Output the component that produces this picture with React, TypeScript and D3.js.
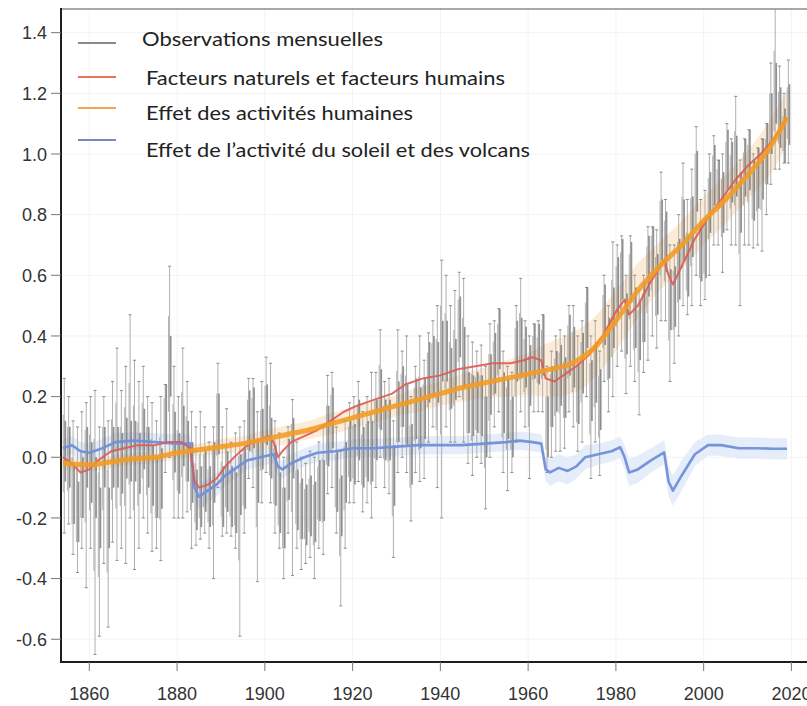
import React from 'react';
import * as d3 from 'd3';

const W = 807;
const H = 706;

// ---- Observations (one stick per year: low..high, with the annual centre) ----
const obsStartYear = 1854;
const obsMid = [
  0.02, 0.0, -0.12, -0.18, -0.1, 0.0,
  -0.05, -0.1, -0.2, 0.0, -0.2, 0.0, 0.0, -0.02, 0.03, 0.02,
  0.02, -0.02, 0.06, 0.0, -0.06, -0.1, -0.07, 0.15, 0.3, 0.05,
  -0.02, 0.07, 0.02, -0.05, -0.14, -0.13, -0.08, -0.13, -0.05, 0.11,
  -0.13, -0.08, -0.13, -0.15, -0.09, -0.07, 0.12, 0.13, -0.05, 0.06,
  0.14, 0.03, -0.06, -0.15, -0.2, -0.04, 0.03, -0.14, -0.17, -0.19,
  -0.16, -0.18, -0.11, -0.11, 0.07, 0.13, -0.08, -0.16, -0.05, 0.02,
  0.01, 0.09, 0.0, 0.02, 0.02, 0.09, 0.19, 0.09, 0.09, -0.06,
  0.15, 0.2, 0.14, 0.01, 0.16, 0.13, 0.16, 0.28, 0.3, 0.28,
  0.35, 0.35, 0.26, 0.29, 0.43, 0.33, 0.18, 0.17, 0.18, 0.17,
  0.1, 0.24, 0.31, 0.39, 0.18, 0.16, 0.1, 0.35, 0.36, 0.33,
  0.27, 0.36, 0.34, 0.37, 0.1, 0.2, 0.25, 0.27, 0.23, 0.37,
  0.33, 0.21, 0.31, 0.46, 0.22, 0.28, 0.19, 0.47, 0.36, 0.46,
  0.56, 0.62, 0.44, 0.61, 0.46, 0.42, 0.48, 0.63, 0.7, 0.57,
  0.75, 0.71, 0.52, 0.53, 0.62, 0.75, 0.63, 0.76, 0.91, 0.68,
  0.69, 0.84, 0.93, 0.92, 0.84, 0.98, 0.94, 0.96, 0.84, 0.96,
  0.98, 0.88, 0.92, 0.95, 1.0, 1.1, 1.2, 1.12, 1.05, 1.13,
];
const obsLow = [
  -0.25, -0.22, -0.32, -0.38, -0.3, -0.43,
  -0.3, -0.65, -0.59, -0.35, -0.56, -0.28, -0.34, -0.3, -0.35, -0.2,
  -0.37, -0.3, -0.2, -0.25, -0.31, -0.3, -0.34, -0.05, 0.0, -0.2,
  -0.2, -0.2, -0.18, -0.3, -0.29, -0.27, -0.25, -0.3, -0.4, -0.1,
  -0.26, -0.25, -0.26, -0.3, -0.59, -0.25, -0.07, -0.1, -0.41, -0.15,
  -0.05, -0.15, -0.25, -0.3, -0.4, -0.25, -0.39, -0.3, -0.37, -0.35,
  -0.33, -0.4, -0.3, -0.32, -0.12, -0.1, -0.25, -0.49, -0.3, -0.15,
  -0.15, -0.08, -0.18, -0.15, -0.2, -0.1, 0.0, -0.1, -0.12, -0.33,
  -0.05, 0.0, -0.05, -0.21, -0.05, -0.08, -0.07, 0.05, 0.1, -0.1,
  -0.2, 0.1, 0.05, 0.05, 0.2, 0.05, -0.02, -0.06, 0.0, -0.02,
  -0.17, 0.0, 0.1, 0.15, -0.05, -0.11, -0.05, 0.05, 0.15, 0.1,
  -0.07, 0.15, 0.15, 0.15, -0.05, 0.0, 0.02, 0.02, 0.03, 0.15,
  0.1, 0.02, 0.05, 0.2, -0.07, 0.05, -0.06, 0.25, 0.15, 0.2,
  0.3, 0.35, 0.21, 0.3, 0.25, 0.14, 0.28, 0.32, 0.4, 0.36,
  0.45, 0.45, 0.25, 0.31, 0.4, 0.5, 0.47, 0.5, 0.6, 0.5,
  0.52, 0.6, 0.7, 0.7, 0.61, 0.75, 0.7, 0.7, 0.5, 0.7,
  0.7, 0.69, 0.7, 0.68, 0.8, 0.9, 0.95, 0.95, 0.97, 0.97,
];
const obsHigh = [
  0.26, 0.2, 0.12, 0.1, 0.15, 0.18,
  0.2, 0.22, 0.1, 0.2, 0.12, 0.25, 0.36, 0.22, 0.3, 0.47,
  0.32, 0.25, 0.3, 0.2, 0.18, 0.12, 0.2, 0.24, 0.63, 0.3,
  0.2, 0.36, 0.25, 0.15, 0.1, 0.15, 0.1, 0.05, 0.1, 0.31,
  0.1, 0.16, 0.05, 0.08, 0.1, 0.12, 0.26, 0.26, 0.15, 0.25,
  0.33, 0.31, 0.12, 0.08, 0.0, 0.1, 0.19, 0.05, 0.0, -0.02,
  0.02, 0.0, 0.05, 0.1, 0.27, 0.28, 0.1, 0.02, 0.12, 0.18,
  0.2, 0.25, 0.15, 0.2, 0.28, 0.28, 0.42, 0.25, 0.26, 0.12,
  0.42, 0.35, 0.4, 0.2, 0.3, 0.4, 0.32, 0.41, 0.45, 0.5,
  0.65, 0.6, 0.5, 0.55, 0.61, 0.59, 0.4, 0.38, 0.35, 0.37,
  0.3, 0.44, 0.45, 0.49, 0.35, 0.3, 0.28, 0.5, 0.59, 0.45,
  0.4, 0.44, 0.45, 0.47, 0.3, 0.35, 0.4, 0.42, 0.4, 0.5,
  0.5, 0.4, 0.45, 0.56, 0.4, 0.45, 0.35, 0.6, 0.5, 0.71,
  0.7, 0.73, 0.6, 0.73, 0.6, 0.55, 0.6, 0.76, 0.76, 0.75,
  0.94, 0.85, 0.7, 0.7, 0.8, 0.97, 0.85, 0.95, 1.09, 0.85,
  0.88, 1.0, 1.06, 0.98, 1.0, 1.1, 1.05, 1.19, 0.98, 1.05,
  1.08, 1.0, 1.02, 1.05, 1.1, 1.3, 1.48, 1.29, 1.2, 1.31,
];

// ---- Effet des activités humaines (orange) ----
const humanYears = [1854, 1860, 1865, 1870, 1875, 1880, 1885, 1890, 1895, 1900, 1905, 1910, 1915, 1920, 1925, 1930, 1935, 1940, 1945, 1950, 1955, 1960, 1965, 1970, 1975, 1980, 1985, 1990, 1995, 2000, 2005, 2010, 2015, 2019];
const humanValues = [-0.02, -0.025, -0.015, -0.005, 0.0, 0.015, 0.025, 0.035, 0.045, 0.06, 0.075, 0.09, 0.11, 0.13, 0.15, 0.17, 0.19, 0.21, 0.23, 0.245, 0.26, 0.275, 0.29, 0.31, 0.36, 0.45, 0.55, 0.63, 0.7, 0.78, 0.85, 0.93, 1.02, 1.12];
const humanBand = [0.02, 0.02, 0.02, 0.02, 0.02, 0.02, 0.02, 0.025, 0.025, 0.03, 0.03, 0.03, 0.035, 0.035, 0.035, 0.035, 0.04, 0.04, 0.045, 0.05, 0.06, 0.07, 0.09, 0.1, 0.1, 0.1, 0.09, 0.08, 0.08, 0.08, 0.08, 0.08, 0.09, 0.09];

// ---- Facteurs naturels et facteurs humains (red) ----
const combinedYears = [1854, 1856, 1858, 1860, 1862, 1865, 1868, 1871, 1875, 1878, 1881, 1883, 1884, 1885, 1887, 1889, 1891, 1893, 1896, 1899, 1901, 1902, 1903, 1904, 1906, 1909, 1912, 1915, 1918, 1921, 1925, 1929, 1932, 1936, 1940, 1944, 1948, 1952, 1956, 1959, 1961, 1963, 1964, 1966, 1968, 1971, 1974, 1977, 1980, 1982, 1983, 1985, 1988, 1991, 1992, 1993, 1995, 1998, 2001, 2004, 2007, 2010, 2013, 2016, 2019];
const combinedValues = [0.0, -0.02, -0.05, -0.04, -0.01, 0.02, 0.03, 0.04, 0.04, 0.05, 0.05, 0.03, -0.08, -0.1, -0.09, -0.07, -0.03, 0.0, 0.04, 0.06, 0.07, 0.05, 0.0, 0.02, 0.05, 0.07, 0.09, 0.12, 0.15, 0.17, 0.19, 0.21, 0.24, 0.26, 0.27, 0.29, 0.3, 0.31, 0.31, 0.32, 0.33, 0.32, 0.26, 0.25, 0.27, 0.3, 0.34, 0.4, 0.48, 0.52, 0.47, 0.5, 0.58, 0.65, 0.6, 0.57, 0.63, 0.72, 0.79, 0.85, 0.91, 0.96, 1.0, 1.05, 1.12];

// ---- Effet de l'activité du soleil et des volcans (blue) ----
const naturalYears = [1854, 1856, 1858, 1860, 1863, 1866, 1870, 1875, 1880, 1883, 1884, 1885, 1887, 1889, 1891, 1893, 1896, 1899, 1902, 1903, 1904, 1906, 1909, 1912, 1916, 1920, 1925, 1930, 1935, 1940, 1945, 1950, 1955, 1958, 1961, 1963, 1964, 1965, 1967, 1969, 1971, 1973, 1976, 1979, 1981, 1982, 1983, 1985, 1988, 1991, 1992, 1993, 1995, 1998, 2001, 2004, 2008, 2012, 2016, 2019];
const naturalValues = [0.03, 0.04, 0.02, 0.015, 0.03, 0.05, 0.055, 0.05, 0.045, 0.045, -0.1, -0.13, -0.11, -0.09, -0.06, -0.04, -0.01, 0.0, 0.01, -0.03, -0.04, -0.02, 0.0, 0.015, 0.02, 0.03, 0.03, 0.035, 0.04, 0.04, 0.04, 0.045, 0.05, 0.055, 0.05, 0.045, -0.04, -0.05, -0.035, -0.045, -0.03, 0.0, 0.01, 0.02, 0.033, 0.0, -0.05, -0.04, -0.01, 0.016, -0.08, -0.11, -0.06, 0.01, 0.04, 0.04, 0.03, 0.03, 0.028, 0.028];
const naturalBand = [0.03, 0.03, 0.03, 0.03, 0.03, 0.03, 0.03, 0.03, 0.03, 0.03, 0.04, 0.04, 0.04, 0.04, 0.035, 0.035, 0.03, 0.03, 0.03, 0.03, 0.03, 0.03, 0.03, 0.03, 0.03, 0.03, 0.03, 0.03, 0.03, 0.03, 0.03, 0.03, 0.03, 0.03, 0.03, 0.03, 0.04, 0.045, 0.045, 0.045, 0.04, 0.04, 0.035, 0.035, 0.035, 0.04, 0.045, 0.045, 0.04, 0.04, 0.05, 0.05, 0.05, 0.04, 0.035, 0.035, 0.035, 0.035, 0.035, 0.035];

// ---- Axes ----
const yTicks = [1.4, 1.2, 1.0, 0.8, 0.6, 0.4, 0.2, 0.0, -0.2, -0.4, -0.6];
const yTickLabels = ['1.4', '1.2', '1.0', '0.8', '0.6', '0.4', '0.2', '0.0', '-0.2', '-0.4', '-0.6'];
const xTicks = [1860, 1880, 1900, 1920, 1940, 1960, 1980, 2000, 2020];

// ---- Legend ----
const legendLabels = [
  'Observations mensuelles',
  'Facteurs naturels et facteurs humains',
  'Effet des activités humaines',
  "Effet de l’activité du soleil et des volcans",
];
const legendColors = ['#8a8a8a', '#e8735e', '#f2a64a', '#7c86c4'];

const PLOT = { left: 61, right: 807, top: 9, bottom: 662 };

export default function App() {
  const x = d3.scaleLinear().domain([1853.55, 2023.55]).range([PLOT.left, PLOT.right]);
  const y = d3.scaleLinear().domain([-0.675, 1.478]).range([PLOT.bottom, PLOT.top]);

  const obsYears = obsMid.map((_, i) => obsStartYear + i);

  const pts = (xs: number[], vs: number[]) => xs.map((yr, i) => [yr, vs[i]] as [number, number]);

  const lineLin = d3.line<[number, number]>().x(d => x(d[0])).y(d => y(d[1])).curve(d3.curveLinear);
  const lineSmooth = d3.line<[number, number]>().x(d => x(d[0])).y(d => y(d[1])).curve(d3.curveMonotoneX);

  const band = (xs: number[], vs: number[], bs: number[], curve: any) =>
    d3.area<number>()
      .x(i => x(xs[i]))
      .y0(i => y(vs[i] - bs[i]))
      .y1(i => y(vs[i] + bs[i]))
      .curve(curve)(xs.map((_, i) => i)) || '';

  const humanPath = lineSmooth(pts(humanYears, humanValues)) || '';
  const combinedPath = lineLin(pts(combinedYears, combinedValues)) || '';
  const naturalPath = lineLin(pts(naturalYears, naturalValues)) || '';
  const humanBandPath = band(humanYears, humanValues, humanBand, d3.curveMonotoneX);
  const naturalBandPath = band(naturalYears, naturalValues, naturalBand, d3.curveLinear);

  const legendLineY = [43, 77, 108, 140];
  const legendTextY = [46, 85, 120, 157];
  const legendTextX = [142, 146, 146, 146];
  const legendTextW = [241, 359, 267, 384];

  return (
    <svg width={W} height={H} style={{ position: 'absolute', left: 0, top: 0, display: 'block', background: '#fff' }}>
      <defs>
        <clipPath id="plotClip">
          <rect x={PLOT.left} y={PLOT.top} width={PLOT.right - PLOT.left} height={PLOT.bottom - PLOT.top} />
        </clipPath>
      </defs>

      {/* faint grid */}
      <g stroke="#f3f3f3" strokeWidth={1}>
        {xTicks.map(t => (
          <line key={'gx' + t} x1={x(t)} x2={x(t)} y1={PLOT.top} y2={PLOT.bottom} />
        ))}
        {yTicks.map(t => (
          <line key={'gy' + t} x1={PLOT.left} x2={PLOT.right} y1={y(t)} y2={y(t)} />
        ))}
      </g>

      <g clipPath="url(#plotClip)">
        {/* uncertainty bands */}
        <path d={naturalBandPath} fill="#e3ebf9" opacity={0.9} />
        <path d={humanBandPath} fill="#fbe6cc" opacity={0.8} />

        {/* observation sticks */}
        <g>
          {obsYears.map((yr, i) => (
            <line key={'ol' + yr} x1={x(yr + 0.3)} x2={x(yr + 0.3)} y1={y(obsLow[i])} y2={y(obsHigh[i])}
              stroke="#b0b0b0" strokeWidth={1} />
          ))}
          {obsYears.map((yr, i) => (
            <g key={'oc' + yr} stroke="#8c8c8c" strokeWidth={1}>
              <line x1={x(yr + 0.3) - 1.5} x2={x(yr + 0.3) + 1.5} y1={y(obsLow[i])} y2={y(obsLow[i])} />
              <line x1={x(yr + 0.3) - 1.5} x2={x(yr + 0.3) + 1.5} y1={y(obsHigh[i])} y2={y(obsHigh[i])} />
            </g>
          ))}
          {obsYears.map((yr, i) => (
            <line key={'ob' + yr} x1={x(yr + 0.05)} x2={x(yr + 0.05)}
              y1={y((obsLow[i] + obsMid[i]) / 2)} y2={y((obsHigh[i] + obsMid[i]) / 2)}
              stroke="#777" strokeWidth={1} opacity={0.55} />
          ))}
          {obsYears.map((yr, i) => {
            const a = Math.max(obsLow[i], obsMid[i] - 0.1);
            const b = Math.min(obsHigh[i], obsMid[i] + 0.1);
            return (
              <line key={'om' + yr} x1={x(yr + 0.55)} x2={x(yr + 0.55)} y1={y(a)} y2={y(b)}
                stroke="#4a4a4a" strokeWidth={1.6} opacity={0.6} />
            );
          })}
        </g>

        {/* model lines */}
        <path d={naturalPath} fill="none" stroke="#6f8fd8" strokeWidth={2.6} strokeLinejoin="round" opacity={0.95} />
        <path d={combinedPath} fill="none" stroke="#e05a52" strokeWidth={2} strokeLinejoin="round" opacity={0.9} />
        <path d={humanPath} fill="none" stroke="#f49b22" strokeWidth={5} strokeLinejoin="round" opacity={0.88} />
      </g>

      {/* frame */}
      <line x1={PLOT.left} x2={PLOT.right} y1={PLOT.top} y2={PLOT.top} stroke="#8d8d8d" strokeWidth={1.5} />
      <line x1={PLOT.left} x2={PLOT.left} y1={PLOT.top - 1} y2={PLOT.bottom + 1} stroke="#1e1e1e" strokeWidth={2} />
      <line x1={PLOT.left - 1} x2={PLOT.right} y1={PLOT.bottom} y2={PLOT.bottom} stroke="#1e1e1e" strokeWidth={2} />

      {/* axes */}
      <g fontFamily="'Liberation Sans', Arial, sans-serif" fontSize={18} fill="#333">
        {yTicks.map((t, i) => (
          <g key={'yt' + t}>
            <line x1={PLOT.left - 10} x2={PLOT.left} y1={y(t)} y2={y(t)} stroke="#777" strokeWidth={1} />
            <text x={47} y={y(t) + 2} textAnchor="end" dominantBaseline="middle">{yTickLabels[i]}</text>
          </g>
        ))}
        {xTicks.map(t => (
          <g key={'xt' + t}>
            <line x1={x(t)} x2={x(t)} y1={PLOT.bottom} y2={PLOT.bottom + 9} stroke="#777" strokeWidth={1} />
            <text x={x(t)} y={700} textAnchor="middle">{t}</text>
          </g>
        ))}
      </g>

      {/* legend */}
      <g>
        {legendLabels.map((lab, i) => (
          <g key={'lg' + i}>
            <line x1={78} x2={116} y1={legendLineY[i]} y2={legendLineY[i]} stroke={legendColors[i]} strokeWidth={2} />
            <text x={legendTextX[i]} y={legendTextY[i]} fontFamily="Lato, 'Open Sans', sans-serif" fontSize={20}
              fill="#222" textLength={legendTextW[i]} lengthAdjust="spacingAndGlyphs">{lab}</text>
          </g>
        ))}
      </g>
    </svg>
  );
}
